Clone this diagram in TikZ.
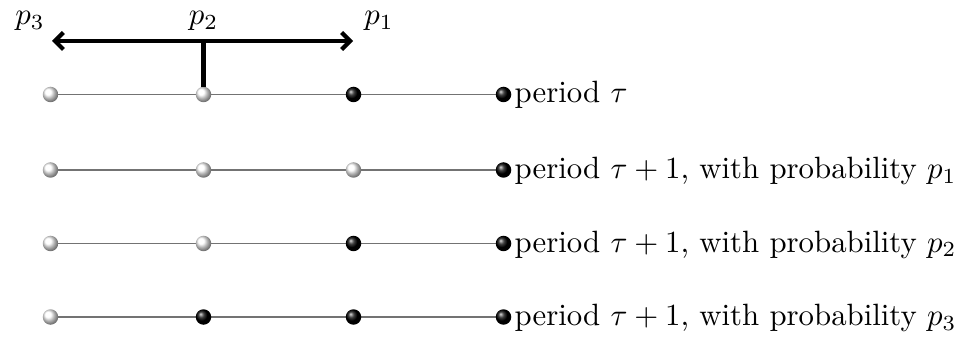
\documentclass[tikz,border=0pt]{standalone}
\usetikzlibrary{arrows.meta,calc}
\begin{document}
\begin{tikzpicture}[x=1pt,y=-1pt,
  ballw/.style={circle,inner sep=0pt,minimum size=15.5pt,shading=ball,ball color=white},
  ballb/.style={circle,inner sep=0pt,minimum size=15.5pt,shading=ball,ball color=black},
  rowline/.style={draw=black!55,line width=1.8pt},
  lbl/.style={anchor=base west,inner sep=0pt,scale=3.08},
  plbl/.style={anchor=base,inner sep=0pt,scale=3.08},
  thick4/.style={line width=4.2pt},
  bigarrow/.style={thick4,{Straight Barb[length=8.5pt,width=17pt]}-{Straight Barb[length=8.5pt,width=17pt]}}]
\useasboundingbox (0,0) rectangle (964,339);
% row lines, drawn between named ball positions
\foreach \r/\y in {1/94.5, 2/170, 3/243.5, 4/317}{
  \coordinate (r\r a) at (50.5,\y);
  \coordinate (r\r b) at (203.5,\y);
  \coordinate (r\r c) at (353.5,\y);
  \coordinate (r\r d) at (503.5,\y);
  \draw[rowline] (r\r a) -- (r\r d);
}
% balls
\foreach \r/\a/\b/\c/\d in {1/w/w/b/b, 2/w/w/w/b, 3/w/w/b/b, 4/w/b/b/b}{
  \node[ball\a] (n\r a) at (r\r a) {};
  \node[ball\b] (n\r b) at (r\r b) {};
  \node[ball\c] (n\r c) at (r\r c) {};
  \node[ball\d] (n\r d) at (r\r d) {};
}
\node[lbl] (t1) at (514,103) {period $\tau$};
\node[lbl] (t2) at (514,178.5) {period $\tau+1$, with probability $p_1$};
\node[lbl] (t3) at (514,252) {period $\tau+1$, with probability $p_2$};
\node[lbl] (t4) at (514,325.5) {period $\tau+1$, with probability $p_3$};
% arrow
\coordinate (al) at (52,41);
\coordinate (ar) at (353,41);
\coordinate (am) at (203.5,41);
\draw[bigarrow] (al) -- (ar);
\draw[thick4] (am) -- (n1b.north);
\node[plbl] (p3) at (30,25) {$p_3$};
\node[plbl] (p2) at (203.5,25) {$p_2$};
\node[plbl] (p1) at (379,25) {$p_1$};
\end{tikzpicture}
\end{document}
